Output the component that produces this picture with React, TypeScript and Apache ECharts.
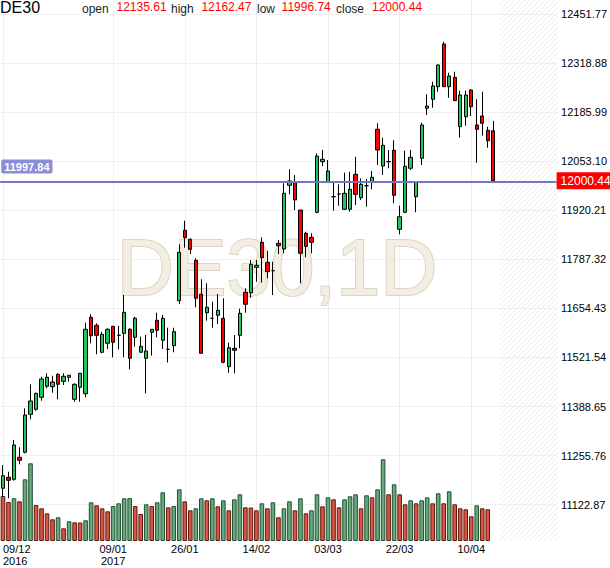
import React, { useEffect, useRef } from 'react';
import * as echarts from 'echarts';

const FONT = '"Liberation Sans", Arial, sans-serif';

const symbolName = 'DE30';
const watermarkText = 'DE30,1D';

const dates = [
  '2016-12-09', '2016-12-12', '2016-12-13', '2016-12-14', '2016-12-15', '2016-12-16',
  '2016-12-19', '2016-12-20', '2016-12-21', '2016-12-22', '2016-12-23',
  '2016-12-27', '2016-12-28', '2016-12-29', '2016-12-30',
  '2017-01-02', '2017-01-03', '2017-01-04', '2017-01-05', '2017-01-06',
  '2017-01-09', '2017-01-10', '2017-01-11', '2017-01-12', '2017-01-13',
  '2017-01-16', '2017-01-17', '2017-01-18', '2017-01-19', '2017-01-20',
  '2017-01-23', '2017-01-24', '2017-01-25', '2017-01-26', '2017-01-27',
  '2017-01-30', '2017-01-31', '2017-02-01', '2017-02-02', '2017-02-03',
  '2017-02-06', '2017-02-07', '2017-02-08', '2017-02-09', '2017-02-10',
  '2017-02-13', '2017-02-14', '2017-02-15', '2017-02-16', '2017-02-17',
  '2017-02-20', '2017-02-21', '2017-02-22', '2017-02-23', '2017-02-24',
  '2017-02-27', '2017-02-28', '2017-03-01', '2017-03-02', '2017-03-03',
  '2017-03-06', '2017-03-07', '2017-03-08', '2017-03-09', '2017-03-10',
  '2017-03-13', '2017-03-14', '2017-03-15', '2017-03-16', '2017-03-17',
  '2017-03-20', '2017-03-21', '2017-03-22', '2017-03-23', '2017-03-24',
  '2017-03-27', '2017-03-28', '2017-03-29', '2017-03-30', '2017-03-31',
  '2017-04-03', '2017-04-04', '2017-04-05', '2017-04-06', '2017-04-07',
  '2017-04-10', '2017-04-11', '2017-04-12', '2017-04-13', '2017-04-14',
];

const opens = [
  11167.3, 11197.1, 11191.6, 11251.2, 11264.8, 11367.7, 11381.2, 11413.7, 11443.5, 11442.4,
  11476.0, 11457.0, 11467.9, 11408.3, 11440.8, 11423.5, 11630.4, 11608.7, 11535.6, 11560.0,
  11606.0, 11581.6, 11587.0, 11597.9, 11576.2, 11535.6, 11519.3, 11589.8, 11622.2, 11568.1,
  11543.7, 11553.5, 11675.3, 11866.0, 11841.6, 11784.7, 11692.7, 11642.8, 11627.7, 11635.8,
  11627.7, 11496.6, 11546.4, 11581.6, 11698.1, 11697.0, 11765.8, 11833.5, 11779.3, 11756.6,
  11830.8, 11815.3, 11987.9, 11994.9, 11921.0, 11857.9, 11847.0, 11914.7, 12051.8, 11997.6,
  11957.0, 11964.3, 11922.9, 11922.9, 12017.6, 11954.3, 11986.8, 11997.6, 12139.5, 12040.1,
  12051.8, 12082.6, 11868.7, 11914.7, 12033.9, 11957.0, 12061.0, 12196.4, 12220.8, 12254.9,
  12370.5, 12254.9, 12280.3, 12146.6, 12173.6, 12245.9, 12151.2, 12175.5, 12136.8, 12135.61,
];
const closes = [
  11201.4, 11188.9, 11284.5, 11243.1, 11365.8, 11403.7, 11424.5, 11463.3, 11467.9, 11455.2,
  11448.9, 11470.6, 11473.3, 11448.9, 11478.7, 11597.9, 11580.5, 11581.6, 11584.3, 11597.9,
  11562.7, 11581.6, 11643.9, 11519.3, 11627.7, 11551.8, 11539.1, 11597.9, 11595.2, 11627.7,
  11543.7, 11591.4, 11806.4, 11845.9, 11814.5, 11681.8, 11532.9, 11657.4, 11627.7, 11649.3,
  11508.5, 11548.0, 11541.0, 11641.2, 11665.6, 11773.9, 11771.2, 11791.8, 11753.9, 11756.6,
  11824.3, 11966.2, 11999.5, 11948.0, 11803.7, 11822.6, 11833.5, 12067.2, 12058.3, 12026.6,
  11957.0, 11964.3, 11966.2, 11977.0, 11963.5, 11990.6, 11986.8, 12009.5, 12083.5, 12096.2,
  12051.8, 11960.8, 11902.8, 12039.3, 12063.7, 11996.8, 12151.2, 12202.6, 12256.8, 12313.7,
  12254.9, 12283.9, 12217.0, 12232.4, 12232.4, 12200.7, 12139.5, 12155.8, 12108.6, 12000.44,
];
const lows = [
  11144.5, 11140.2, 11187.9, 11232.3, 11262.1, 11354.1, 11377.4, 11404.5, 11438.1, 11426.2,
  11408.3, 11447.0, 11456.0, 11401.8, 11401.8, 11413.7, 11560.0, 11530.2, 11532.9, 11544.5,
  11522.0, 11543.7, 11522.0, 11489.5, 11550.8, 11535.6, 11424.5, 11526.4, 11576.2, 11544.5,
  11508.0, 11535.6, 11666.4, 11818.9, 11801.8, 11657.4, 11532.9, 11621.2, 11602.2, 11612.2,
  11505.8, 11480.3, 11478.7, 11546.4, 11642.8, 11683.4, 11726.8, 11724.1, 11736.0, 11690.8,
  11801.8, 11803.7, 11963.5, 11921.0, 11722.5, 11792.9, 11803.7, 11912.0, 12040.1, 11994.9,
  11919.1, 11932.6, 11921.0, 11916.4, 11934.5, 11948.0, 11929.9, 11977.0, 12042.8, 12015.7,
  12033.9, 11939.1, 11855.2, 11912.5, 12029.3, 11914.7, 12042.8, 12178.2, 12198.0, 12241.3,
  12254.9, 12225.1, 12217.0, 12116.8, 12149.3, 12175.5, 12049.1, 12122.2, 12089.7, 11996.74,
];
const highs = [
  11230.4, 11212.2, 11298.1, 11278.3, 11383.9, 11448.9, 11426.2, 11469.5, 11478.7, 11472.2,
  11478.7, 11478.7, 11473.3, 11451.6, 11479.5, 11615.7, 11638.5, 11614.1, 11591.4, 11600.6,
  11606.8, 11606.8, 11690.8, 11600.6, 11632.0, 11577.8, 11582.4, 11597.9, 11642.8, 11636.6,
  11602.2, 11602.2, 11828.1, 11892.0, 11844.3, 11790.2, 11733.3, 11722.5, 11672.6, 11693.5,
  11681.8, 11561.6, 11582.4, 11653.7, 11708.9, 11785.5, 11785.5, 11847.0, 11810.7, 11780.9,
  11839.7, 11993.3, 12031.2, 12015.7, 11921.0, 11862.2, 11857.9, 12074.5, 12083.5, 12056.4,
  11997.6, 11990.6, 12022.0, 12024.7, 12065.3, 12006.8, 12004.9, 12026.6, 12155.8, 12116.8,
  12083.5, 12109.7, 11932.6, 12081.6, 12083.5, 11997.6, 12157.4, 12234.3, 12268.4, 12315.5,
  12376.8, 12292.8, 12295.5, 12244.0, 12244.0, 12247.8, 12220.8, 12241.3, 12146.6, 12162.47,
];

// volume (thousands of lots); the last session has no volume yet
const volumes: (number | null)[] = [
  45, 39, 42.7, 39.7, 61.7, 77.7, 36, 32.7, 27.7, 21.7,
  23.7, 12.7, 19.7, 18.7, 18.5, 20.7, 38.7, 35.7, 32.7, 29.7,
  35, 37.7, 42.7, 42.9, 35, 27, 36.7, 35, 38.7, 48.7,
  33.7, 35, 51.7, 39.7, 30.7, 32.7, 42.7, 40.7, 42.7, 34.7,
  40.7, 30.7, 41.7, 46.7, 33.7, 33.5, 30.7, 37.7, 32.7, 38.7,
  23.7, 32.7, 39.7, 30.7, 42.7, 27.7, 30.7, 46.7, 34.7, 43.7,
  41.7, 33.7, 41.7, 44.7, 46.7, 32.7, 45.7, 43.7, 51.7, 81.7,
  46.7, 56.7, 46.7, 36.7, 40.7, 37.7, 40.7, 43.7, 37.7, 47.7,
  37.7, 49.7, 36.7, 32.7, 31.7, 24.7, 35.7, 32.7, 31.7, null,
];

const tickDates = ['2016-12-09', '2017-01-09', '2017-01-26', '2017-02-14', '2017-03-03', '2017-03-22', '2017-04-10'];
const priceTicks = [11122.87, 11255.76, 11388.65, 11521.54, 11654.43, 11787.32, 11920.21, 12053.10, 12185.99, 12318.88, 12451.77];
const priceMin = 11024.55;
const priceMax = 12489.68;
const volumeAxisMax = 541;
const bidPrice = 11997.84;
const futureSlots = 11;

const UP = '#22c55a';
const DOWN = '#ff0000';
const VOL_UP = '#68a77e';
const VOL_UP_B = '#1e5431';
const VOL_DN = '#da5441';
const VOL_DN_B = '#5e1a12';

export default function App() {
  const ref = useRef<HTMLDivElement>(null);

  useEffect(() => {
    const chart = echarts.init(ref.current!, null, { renderer: 'svg' });
    const tickSet = new Set(tickDates);
    const cats = [...dates, ...Array.from({ length: futureSlots }, (_, k) => `f${k}`)];
    const candles = dates.map((_, i) => [opens[i], closes[i], lows[i], highs[i]]);
    const volData = volumes.map((v, i) => {
      if (v == null) return '-';
      const prev = i > 0 ? volumes[i - 1] : null;
      const up = prev != null && v > prev;
      return {
        value: v,
        itemStyle: { color: up ? VOL_UP : VOL_DN, borderColor: up ? VOL_UP_B : VOL_DN_B, borderWidth: 1 },
      };
    });
    const n = dates.length - 1;
    const last = { open: opens[n], high: highs[n], low: lows[n], close: closes[n] };

    const fmtDate = (val: string) => {
      if (!tickSet.has(val)) return '';
      const [y, m, d] = val.split('-');
      const k = tickDates.indexOf(val);
      const showYear = k === 0 || tickDates[k - 1].slice(0, 4) !== y;
      return `${d}/${m}` + (showYear ? `\n${y}` : '');
    };

    // hatched "future" zone on the right
    const hatch: any[] = [];
    const hx0 = 500, hx1 = 558, hy0 = 0, hy1 = 541, step = 5;
    for (let k = hx0 + hy0; k <= hx1 + hy1; k += step) {
      const xa = Math.max(hx0, k - hy1);
      const xb = Math.min(hx1, k - hy0);
      if (xb > xa) {
        hatch.push({
          type: 'line', z: 1, silent: true,
          shape: { x1: xa, y1: k - xa, x2: xb, y2: k - xb },
          style: { stroke: '#ececec', lineWidth: 1 },
        });
      }
    }

    const hdr = (text: string, x: number, y: number, size: number, color: string) => ({
      type: 'text', x, y, z: 10, silent: true,
      style: {
        text, fill: color, font: `${size}px ${FONT}`,
        align: 'left', verticalAlign: 'middle', textAlign: 'left', textVerticalAlign: 'middle',
      },
    });

    const option: any = {
      animation: false,
      backgroundColor: '#ffffff',
      textStyle: { fontFamily: FONT },
      grid: { left: -1.22, right: 51.2, top: 0, bottom: 27, containLabel: false },
      xAxis: {
        type: 'category',
        data: cats,
        boundaryGap: true,
        axisLine: { show: false },
        axisTick: { show: false },
        axisLabel: {
          interval: (_i: number, val: string) => tickSet.has(val),
          formatter: fmtDate,
          color: '#000',
          fontSize: 11,
          fontFamily: FONT,
          margin: 1.5,
          lineHeight: 12.4,
          alignMinLabel: 'left',
          hideOverlap: false,
        },
        splitLine: {
          show: true,
          interval: (_i: number, val: string) => tickSet.has(val),
          alignWithLabel: true,
          lineStyle: { color: '#efefef', width: 1 },
        },
      },
      yAxis: [
        {
          type: 'value',
          position: 'right',
          min: priceMin,
          max: priceMax,
          scale: true,
          axisLine: { show: false },
          axisTick: { show: false, customValues: priceTicks },
          axisLabel: {
            customValues: priceTicks,
            formatter: (v: number) => v.toFixed(2),
            color: '#000',
            fontSize: 11,
            fontFamily: FONT,
            margin: 4.5,
          },
          splitLine: { show: true, lineStyle: { color: '#efefef', width: 1 } },
        },
        { type: 'value', min: 0, max: volumeAxisMax, show: false, splitLine: { show: false } },
      ],
      series: [
        {
          type: 'bar',
          name: 'Volume',
          yAxisIndex: 1,
          data: volData,
          barWidth: 4.6,
          z: 2,
          silent: true,
        },
        {
          type: 'candlestick',
          name: symbolName,
          data: candles,
          barWidth: 3.8,
          z: 3,
          silent: true,
          itemStyle: {
            color: UP, color0: DOWN,
            borderColor: '#000', borderColor0: '#000', borderColorDoji: '#000',
            borderWidth: 1,
          },
          markLine: {
            silent: true,
            symbol: ['none', 'none'],
            data: [
              {
                yAxis: bidPrice,
                lineStyle: { color: '#7478c0', width: 2, type: 'solid' },
                label: {
                  show: true, position: 'insideStartTop', formatter: bidPrice.toFixed(2),
                  color: '#fff', backgroundColor: '#8a8ed8', padding: [2, 3, 1, 3],
                  fontSize: 11, fontWeight: 'bold', fontFamily: FONT, distance: [1, 8], borderRadius: 2,
                },
              },
              {
                yAxis: last.close,
                lineStyle: { color: 'rgba(255,255,255,0)', width: 1, type: 'solid' },
                label: {
                  show: true, position: 'end', formatter: last.close.toFixed(2),
                  color: '#fff', backgroundColor: '#ff0000', padding: [2, 4, 2, 4],
                  fontSize: 12, lineHeight: 13, fontFamily: FONT, distance: 0,
                },
              },
            ],
          },
        },
      ],
      graphic: [
        ...hatch,
        {
          type: 'text', x: 277, y: 267, z: 1, silent: true,
          style: {
            text: watermarkText, font: `79px ${FONT}`,
            fill: '#f2eee3', stroke: '#dbd5c2', lineWidth: 2,
            align: 'center', verticalAlign: 'middle', textAlign: 'center', textVerticalAlign: 'middle',
          },
        },
        hdr(symbolName, 0, 7.5, 16, '#000'),
        hdr('open', 82, 9.2, 12, '#222'),
        hdr(last.open.toFixed(2), 116.5, 6.9, 12, '#ff0000'),
        hdr('high', 171, 9.2, 12, '#222'),
        hdr(last.high.toFixed(2), 201.4, 6.9, 12, '#ff0000'),
        hdr('low', 257, 9.2, 12, '#222'),
        hdr(last.low.toFixed(2), 281.6, 6.9, 12, '#ff0000'),
        hdr('close', 336, 9.2, 12, '#222'),
        hdr(last.close.toFixed(2), 372, 6.9, 12, '#ff0000'),
      ],
    };

    chart.setOption(option);
    return () => chart.dispose();
  }, []);

  return (
    <div
      ref={ref}
      style={{ position: 'fixed', left: 0, top: 0, width: 610, height: 568, background: '#fff' }}
    />
  );
}
